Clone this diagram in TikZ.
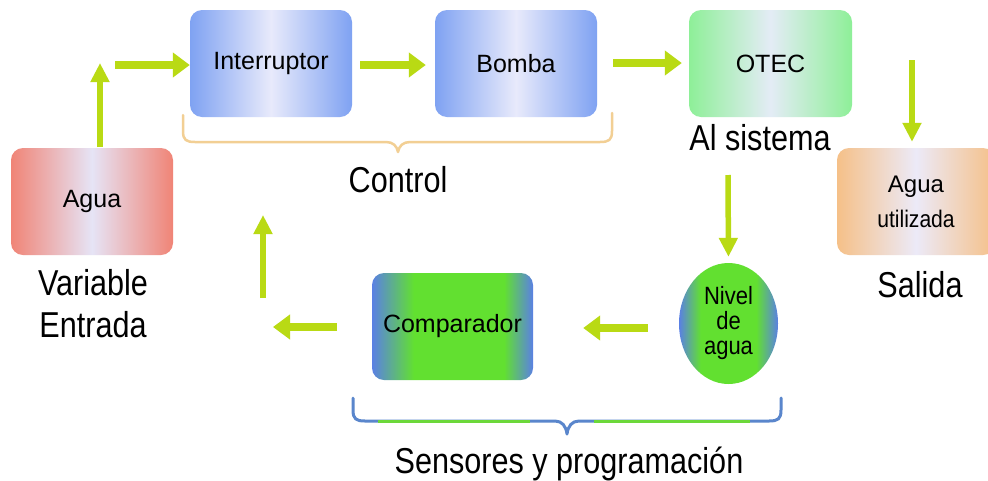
\documentclass[tikz,border=0pt]{standalone}
\usepackage{fontspec}
\setmainfont{Liberation Sans}
\newfontfamily\narrowfont[FakeStretch=0.85]{Liberation Sans}
\newfontfamily\boxnarrow[FakeStretch=0.88]{Liberation Sans}
\usetikzlibrary{arrows.meta,shapes.geometric}
\definecolor{bedge}{HTML}{7FA2F2}
\definecolor{bmid}{HTML}{E8EAFB}
\definecolor{redge}{HTML}{F08476}
\definecolor{rmid}{HTML}{E6E4F6}
\definecolor{gedge}{HTML}{8EEF98}
\definecolor{gmid}{HTML}{E4ECF6}
\definecolor{oedge}{HTML}{F5C088}
\definecolor{omid}{HTML}{ECEAF8}
\definecolor{cblue}{HTML}{5A80E4}
\definecolor{cgreen}{HTML}{62E030}
\definecolor{arrowc}{HTML}{B9DA14}
\definecolor{bracetan}{HTML}{F2CF94}
\definecolor{braceblue}{HTML}{5A86CC}
\definecolor{bracegreen}{HTML}{6CD83A}
\pgfdeclarehorizontalshading{compshade}{100bp}{color(0bp)=(cblue);color(25bp)=(cblue);color(38bp)=(cgreen);color(66bp)=(cgreen);color(75bp)=(cblue);color(100bp)=(cblue)}
\pgfdeclarehorizontalshading{nivshade}{100bp}{color(0bp)=(cblue);color(25bp)=(cblue);color(36bp)=(cgreen);color(64bp)=(cgreen);color(75bp)=(cblue);color(100bp)=(cblue)}
\tikzset{
  box/.style={rounded corners=12pt, minimum width=162pt, minimum height=107pt, inner sep=0pt,
    font=\fontsize{25}{29}\selectfont, align=center},
  bluebox/.style={box, left color=bedge, right color=bedge, middle color=bmid},
  redbox/.style={box, left color=redge, right color=redge, middle color=rmid},
  greenbox/.style={box, left color=gedge, right color=gedge, middle color=gmid},
  orangebox/.style={box, left color=oedge, right color=oedge, middle color=omid},
  compbox/.style={box, shading=compshade},
  nivbox/.style={ellipse, minimum width=99pt, minimum height=121pt, inner sep=0pt, shading=nivshade,
    font=\boxnarrow\fontsize{25}{25}\selectfont, align=center},
  lab/.style={font=\narrowfont\fontsize{36}{42}\selectfont, inner sep=0pt, align=center},
  garrow/.style={draw=arrowc, line width=8pt, -{Triangle[width=24pt,length=17pt]}},
  varrow/.style={draw=arrowc, line width=5.5pt, -{Triangle[width=18pt,length=19pt]}},
  bracetop/.style={draw=bracetan, line width=2.5pt, line cap=round, line join=round},
  bracebot/.style={draw=braceblue, line width=3pt, line cap=round, line join=round},
}
\begin{document}
\begin{tikzpicture}[x=1pt,y=-1pt]
\useasboundingbox (0,0) rectangle (988,480);
\clip (0,0) rectangle (988,480);
\fill[white] (0,0) rectangle (988,480);

% boxes
\node[redbox] (agua) at (92,201.5) {Agua};
\node[bluebox] (inter) at (271,63.5) {Interruptor};
\node[bluebox] (bomba) at (516,63.5) {Bomba};
\node[greenbox, minimum width=163pt] (otec) at (770.5,63.5) {OTEC};
\node[orangebox, minimum width=158pt, font=\fontsize{24}{35}\selectfont] (usada) at (916,201.5) {Agua\\{\boxnarrow utilizada}};
\node[compbox, minimum width=161pt] (comp) at (452.5,326.5) {Comparador};
\node[nivbox] (nivel) at (728.5,323.5) {Nivel\\de\\agua};

% labels
\node[lab, anchor=base] (control) at (398,192) {Control};
\node[lab, anchor=base] (sistema) at (760,150) {Al sistema};
\node[lab, anchor=base] (variable) at (93,295) {Variable};
\node[lab, anchor=base] (entrada) at (93,337) {Entrada};
\node[lab, anchor=base] (salida) at (920,297) {Salida};
\node[lab, anchor=base] (sensores) at (569,473) {Sensores y programaci\'on};

% arrow end points
\coordinate (a1s) at (100,147);
\coordinate (a1e) at (100,63);
\coordinate (a2s) at (115,65);
\coordinate (a5s) at (912,60);
\coordinate (a6s) at (728,175);
\coordinate (a8e) at (273,327);
\coordinate (a9s) at (263,298);
\coordinate (a9e) at (263,215);

% arrows
\draw[varrow] (a1s) -- (a1e);
\draw[garrow] (a2s) -- (inter.west |- a2s) ;
\draw[garrow, shorten <=8pt, shorten >=9pt] (inter.east |- 0,65) -- (bomba.west |- 0,65);
\draw[garrow, shorten <=16pt, shorten >=7pt] (bomba.east |- 0,63) -- (otec.west |- 0,63);
\draw[varrow, shorten >=6pt] (a5s) -- (a5s |- usada.north);
\draw[varrow, shorten >=6pt] (a6s) -- (nivel.north);
\draw[garrow, shorten <=31pt, shorten >=50pt] (nivel.west |- 0,328) -- (comp.east |- 0,328);
\draw[garrow, shorten <=35pt] (comp.west |- 0,327) -- (a8e);
\draw[varrow] (a9s) -- (a9e);

% braces
\draw[bracetop] (183,115) -- (183,131) .. controls (183,140) and (186,142) .. (195,142) -- (386,142)
  .. controls (393,142) and (397,146) .. (398,152) .. controls (399,146) and (403,142) .. (410,142)
  -- (600,142) .. controls (609,142) and (612,140) .. (612,131) -- (612,113);
\draw[bracebot] (353,398) -- (353,410) .. controls (353,419) and (356,421) .. (365,421) -- (555,421)
  .. controls (562,421) and (566,426) .. (567,434) .. controls (568,426) and (572,421) .. (579,421)
  -- (769,421) .. controls (778,421) and (781,419) .. (781,410) -- (781,398);
\draw[bracegreen, line width=3pt] (378,421) -- (530,421);
\draw[bracegreen, line width=3pt] (594,421) -- (750,421);
\end{tikzpicture}
\end{document}
